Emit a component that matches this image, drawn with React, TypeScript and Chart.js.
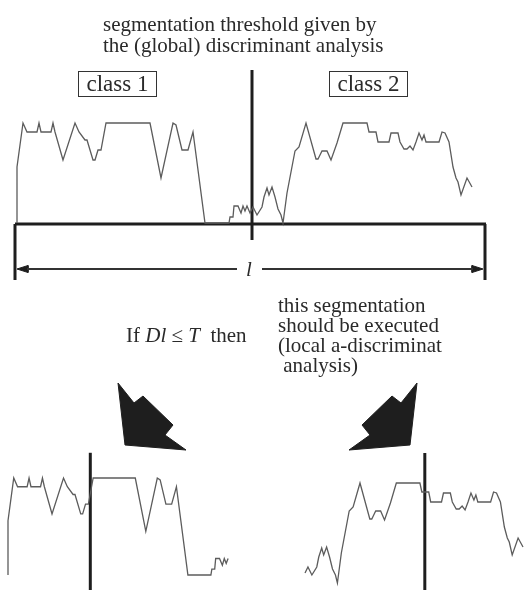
import React, { useEffect, useRef } from "react";
import { Chart, registerables } from "chart.js";

Chart.register(...registerables);

const W = 525;
const H = 590;

// Grey-level profile: break points (position along the record, level 0..100)
const signalPos = [
  0, 0, 6, 10, 20, 22, 24, 34, 36, 38, 46, 58, 62, 68, 70, 76, 78, 81, 84, 89,
  133, 144, 156, 159, 165, 171, 176, 188, 212, 213, 216, 217, 221, 224, 226,
  228, 230, 233, 236, 240, 245, 247, 250, 252, 255, 258, 261, 264, 266, 270,
  278, 282, 289, 299, 301, 303, 305, 310, 314, 320, 326, 350, 352, 359, 361,
  372, 374, 381, 383, 387, 390, 393, 396, 399, 402, 405, 407, 409, 422, 425,
  428, 432, 436, 439, 441, 444, 450, 455,
];
const signalLevel = [
  0, 56, 100, 91, 91, 100, 91, 91, 100, 91, 63, 100, 91, 83, 83, 63, 63, 73, 73, 100,
  100, 45, 100, 98, 73, 73, 91, 0, 0, 6, 6, 17, 17, 10, 17,
  12, 17, 10, 16, 8, 16, 26, 35, 28, 36, 26, 14, 8, 0, 30,
  72, 76, 100, 64, 64, 68, 72, 72, 63, 80, 100, 100, 91, 91, 81,
  81, 90, 90, 81, 74, 74, 77, 73, 81, 90, 83, 88, 81, 81, 91,
  90, 81, 56, 45, 41, 28, 45, 36,
];

// Segmentation thresholds (positions along the record)
const globalThreshold = 235;
const class1Threshold = 86;
const class2Threshold = 355;

// Parts of the record shown in the lower views
const class1Range = [0, 230];
const class2Range = [233, 455];

// Record length marked by the dimension arrow
const recordStart = 0;
const recordEnd = 466;

// Big "lightning" arrow outline (left one; right one is its mirror image)
const arrowX = [118, 134, 143, 173, 165, 186, 125];
const arrowY = [383, 403, 396, 425, 435, 450, 445];
const mirrorAxis = 267.5;

type View = { x0: number; kx: number; y0: number; ky: number };
const topView: View = { x0: 17, kx: 1, y0: 223, ky: 1 };
const leftView: View = { x0: 8, kx: 0.957, y0: 575, ky: 0.97 };
const rightView: View = { x0: 76.2, kx: 0.982, y0: 583, ky: 1 };

function xScale(v: View) {
  return {
    type: "linear" as const,
    axis: "x" as const,
    position: "bottom" as const,
    display: false,
    bounds: "data" as const,
    min: -v.x0 / v.kx,
    max: (W - v.x0) / v.kx,
  };
}
function yScale(v: View) {
  return {
    type: "linear" as const,
    axis: "y" as const,
    position: "left" as const,
    display: false,
    bounds: "data" as const,
    min: (v.y0 - H) / v.ky,
    max: v.y0 / v.ky,
  };
}

function signalPoints(range?: number[]) {
  const pts: { x: number; y: number }[] = [];
  signalPos.forEach((p, i) => {
    if (!range || (p >= range[0] && p <= range[1])) pts.push({ x: p, y: signalLevel[i] });
  });
  return pts;
}

const SIG = "#5c5c5c";
const INK = "#1e1e1e";

function line(data: { x: number; y: number }[], xa: string, ya: string, color: string, width: number, extra: any = {}) {
  return {
    data,
    xAxisID: xa,
    yAxisID: ya,
    showLine: true,
    borderColor: color,
    borderWidth: width,
    pointRadius: 0,
    tension: 0,
    fill: false,
    ...extra,
  };
}

function polygon(xs: number[], ys: number[], xa: string, ya: string) {
  const pts = xs.map((x, i) => ({ x, y: ys[i] }));
  pts.push(pts[0]);
  return line(pts, xa, ya, INK, 1, { fill: "shape", backgroundColor: INK });
}

export default function App() {
  const ref = useRef<HTMLCanvasElement>(null);

  useEffect(() => {
    const lvAxis = -1;
    const lvBracket = -57;
    const lvDim = -46;
    const gapA = 220;
    const gapB = 245;
    const headLen = 11;
    const headHalf = 3.5;

    const datasets: any[] = [
      // top: whole record
      line(signalPoints(), "tX", "tY", SIG, 1.3),
      line([{ x: globalThreshold, y: -17 }, { x: globalThreshold, y: 153 }], "tX", "tY", INK, 3),
      line([{ x: recordStart - 2, y: lvAxis }, { x: recordEnd + 3, y: lvAxis }], "tX", "tY", INK, 3),
      line([{ x: recordStart - 2, y: lvAxis }, { x: recordStart - 2, y: lvBracket }], "tX", "tY", INK, 3),
      line([{ x: recordEnd + 2, y: lvAxis }, { x: recordEnd + 2, y: lvBracket }], "tX", "tY", INK, 3),
      line([{ x: recordStart + headLen - 1, y: lvDim }, { x: gapA, y: lvDim }], "tX", "tY", "#333", 1.8),
      line([{ x: gapB, y: lvDim }, { x: recordEnd - headLen + 1, y: lvDim }], "tX", "tY", "#333", 1.8),
      polygon(
        [recordStart, recordStart + headLen, recordStart + headLen],
        [lvDim, lvDim + headHalf, lvDim - headHalf],
        "tX",
        "tY"
      ),
      polygon(
        [recordEnd, recordEnd - headLen, recordEnd - headLen],
        [lvDim, lvDim + headHalf, lvDim - headHalf],
        "tX",
        "tY"
      ),
      // lower left: class 1 part
      line(signalPoints(class1Range), "lX", "lY", SIG, 1.3),
      line([{ x: class1Threshold, y: -16 }, { x: class1Threshold, y: 126 }], "lX", "lY", INK, 3),
      // lower right: class 2 part
      line(signalPoints(class2Range), "rX", "rY", SIG, 1.3),
      line([{ x: class2Threshold, y: -7 }, { x: class2Threshold, y: 130 }], "rX", "rY", INK, 3),
      // big arrows
      polygon(arrowX, arrowY, "pX", "pY"),
      polygon(arrowX.map((x) => 2 * mirrorAxis - x), arrowY, "pX", "pY"),
    ];

    const chart = new Chart(ref.current as HTMLCanvasElement, {
      type: "scatter",
      data: { datasets },
      options: {
        animation: false,
        responsive: false,
        events: [],
        layout: { padding: 0 },
        plugins: { legend: { display: false }, tooltip: { enabled: false } },
        scales: {
          pX: { type: "linear", axis: "x", position: "bottom", display: false, bounds: "data", min: 0, max: W },
          pY: { type: "linear", axis: "y", position: "left", display: false, bounds: "data", min: 0, max: H, reverse: true },
          tX: xScale(topView),
          tY: yScale(topView),
          lX: xScale(leftView),
          lY: yScale(leftView),
          rX: xScale(rightView),
          rY: yScale(rightView),
        } as any,
      },
    });
    return () => chart.destroy();
  }, []);

  const txt: React.CSSProperties = {
    position: "absolute",
    whiteSpace: "pre",
    fontSize: 21,
    lineHeight: "21px",
  };
  const box: React.CSSProperties = {
    position: "absolute",
    top: 71,
    width: 79,
    height: 26,
    boxSizing: "border-box",
    border: "1.5px solid #333",
    fontSize: 23,
    lineHeight: "23px",
    textAlign: "center",
    whiteSpace: "pre",
  };

  return (
    <div
      style={{
        position: "fixed",
        left: 0,
        top: 0,
        width: W,
        height: H,
        background: "#fff",
        color: "#2a2a2a",
        fontFamily: '"Liberation Serif", "Times New Roman", serif',
      }}
    >
      <canvas ref={ref} width={W} height={H} style={{ position: "absolute", left: 0, top: 0 }} />
      <div style={{ ...txt, left: 103, top: 14 }}>
        {"segmentation threshold given by\nthe (global) discriminant analysis"}
      </div>
      <div style={{ ...box, left: 78 }}>class 1</div>
      <div style={{ ...box, left: 329 }}>class 2</div>
      <div style={{ ...txt, left: 246, top: 259, fontStyle: "italic" }}>l</div>
      <div style={{ ...txt, left: 126, top: 325 }}>
        {"If "}
        <i>Dl</i>
        {" ≤ "}
        <i>T</i>
        {"  then"}
      </div>
      <div style={{ ...txt, left: 278, top: 295, lineHeight: "20px" }}>
        {"this segmentation\nshould be executed\n(local a-discriminat\n analysis)"}
      </div>
    </div>
  );
}
